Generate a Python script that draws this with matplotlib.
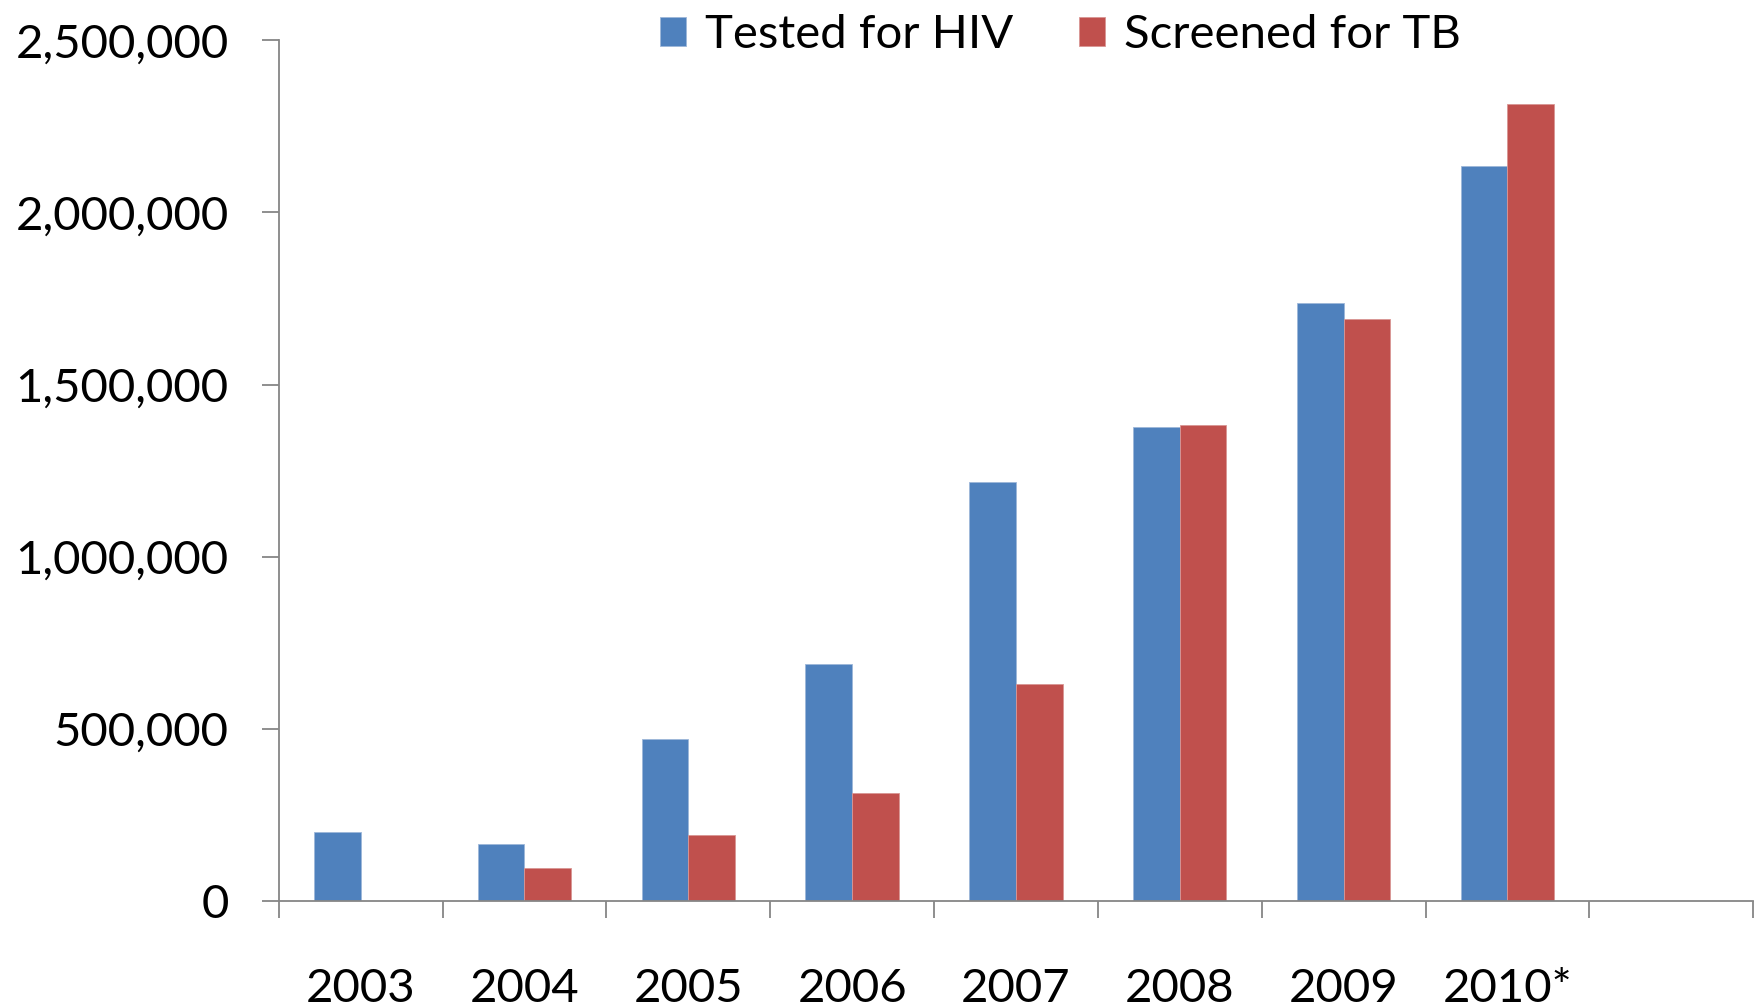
import matplotlib.pyplot as plt
import numpy as np

# Valores
anios = ['2003', '2004', '2005', '2006', '2007', '2008', '2009', '2010*']
probados_vih = [200000, 166000, 470000, 690000, 1217000, 1377000, 1736000, 2134000]
tamizados_tb = [0, 95000, 193000, 313000, 630000, 1384000, 1691000, 2314000]
series = ['Tested for HIV', 'Screened for TB']

AZUL = '#4F81BD'
ROJO = '#C0504D'
GRIS = '#868686'

plt.rcParams['font.family'] = ['Lato', 'DejaVu Sans']

fig = plt.figure(figsize=(17.62, 10.08), dpi=100)
ax = fig.add_axes([0.1582, 0.106, 0.8368, 0.854])

n_cat = len(anios) + 1  # hay una categoria vacia al final
x = np.arange(len(anios))
ancho = 0.285

ax.bar(x - ancho / 2, probados_vih, ancho, color=AZUL, label=series[0],
       edgecolor='#9db7d9', linewidth=0.6)
ax.bar(x + ancho / 2, tamizados_tb, ancho, color=ROJO, label=series[1],
       edgecolor='#d99694', linewidth=0.6)

ax.set_xlim(-0.5, n_cat - 0.5)
ax.set_ylim(0, 2500000)

# eje y
ax.set_yticks(np.arange(0, 2500001, 500000))
ax.set_yticklabels([f'{int(v):,}' for v in np.arange(0, 2500001, 500000)])
ax.tick_params(axis='y', direction='out', length=12, width=1.3, color=GRIS,
               pad=24, labelsize=34)

# eje x: marcas en los limites, etiquetas en los centros
ax.set_xticks(np.arange(-0.5, n_cat, 1.0))
ax.set_xticklabels([])
ax.tick_params(axis='x', which='major', direction='out', length=12, width=1.3,
               color=GRIS)
ax.set_xticks(x, minor=True)
ax.set_xticklabels(anios, minor=True)
ax.tick_params(axis='x', which='minor', length=0, pad=48, labelsize=34)

for lado in ['top', 'right']:
    ax.spines[lado].set_visible(False)
for lado in ['left', 'bottom']:
    ax.spines[lado].set_color(GRIS)
    ax.spines[lado].set_linewidth(1.3)

fig.legend(loc='upper center', bbox_to_anchor=(0.602, 1.028), ncol=2,
           frameon=False, fontsize=34, handlelength=0.55, handleheight=0.55,
           handletextpad=0.4, columnspacing=1.4)

plt.savefig('out.png', dpi=100)
